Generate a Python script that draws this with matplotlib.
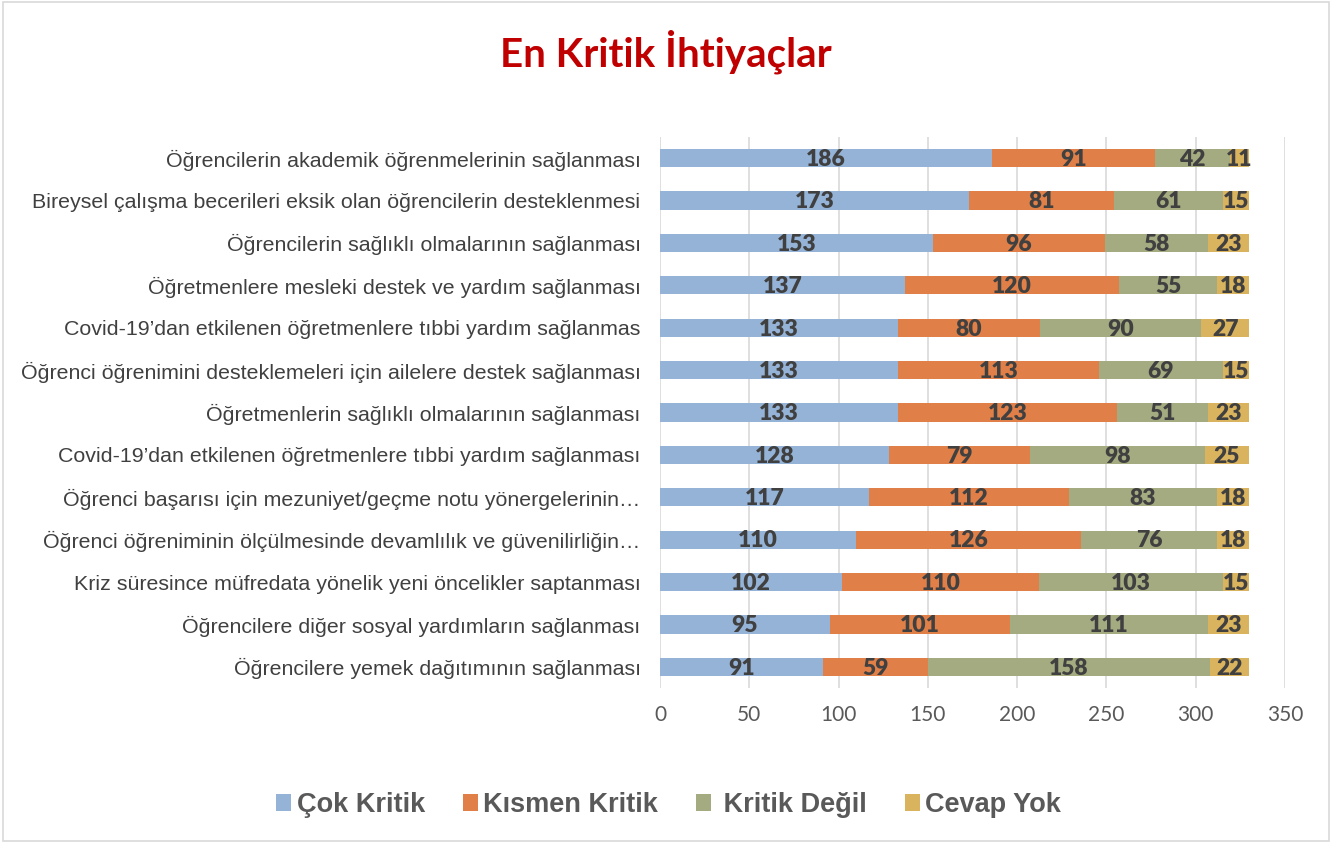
import matplotlib
matplotlib.use("Agg")
import matplotlib.pyplot as plt
from matplotlib.patches import Rectangle
import numpy as np

categories = [
    "Öğrencilerin akademik öğrenmelerinin sağlanması",
    "Bireysel çalışma becerileri eksik olan öğrencilerin desteklenmesi",
    "Öğrencilerin sağlıklı olmalarının sağlanması",
    "Öğretmenlere mesleki destek ve yardım sağlanması",
    "Covid-19’dan etkilenen öğretmenlere tıbbi yardım sağlanmas",
    "Öğrenci öğrenimini desteklemeleri için ailelere destek sağlanması",
    "Öğretmenlerin sağlıklı olmalarının sağlanması",
    "Covid-19’dan etkilenen öğretmenlere tıbbi yardım sağlanması",
    "Öğrenci başarısı için mezuniyet/geçme notu yönergelerinin…",
    "Öğrenci öğreniminin ölçülmesinde devamlılık ve güvenilirliğin…",
    "Kriz süresince müfredata yönelik yeni öncelikler saptanması",
    "Öğrencilere diğer sosyal yardımların sağlanması",
    "Öğrencilere yemek dağıtımının sağlanması",
]
cok_kritik = [186, 173, 153, 137, 133, 133, 133, 128, 117, 110, 102, 95, 91]
kismen_kritik = [91, 81, 96, 120, 80, 113, 123, 79, 112, 126, 110, 101, 59]
kritik_degil = [42, 61, 58, 55, 90, 69, 51, 98, 83, 76, 103, 111, 158]
cevap_yok = [11, 15, 23, 18, 27, 15, 23, 25, 18, 18, 15, 23, 22]
series_names = ["Çok Kritik", "Kısmen Kritik", " Kritik Değil", "Cevap Yok"]
xticks = [0, 50, 100, 150, 200, 250, 300, 350]

colors = ["#95B3D7", "#E07F47", "#A5AB81", "#D9B35E"]

fig = plt.figure(figsize=(13.32, 8.43), dpi=100)
ax = fig.add_axes([660/1332, 1-688/843, (1285-660)/1332, (688-137)/843])

y = np.arange(len(categories))
left = np.zeros(len(categories))
all_series = [cok_kritik, kismen_kritik, kritik_degil, cevap_yok]
for vals, name, c in zip(all_series, series_names, colors):
    vals = np.array(vals, dtype=float)
    ax.barh(y, vals, left=left, height=0.43, color=c, label=name, zorder=3)
    for yi, l, v in zip(y, left, vals):
        ax.text(l + v/2, yi + 0.03, f"{int(v)}", ha="center", va="center",
                fontsize=16.5, fontweight="heavy", color="#404040",
                family=["Lato", "DejaVu Sans"], zorder=4)
    left += vals

ax.set_ylim(len(categories)-0.5, -0.5)
ax.set_xlim(0, 350)
ax.set_xticks(xticks)
ax.set_xticklabels([str(t) for t in xticks], fontsize=15, color="#595959",
                   family=["Lato", "DejaVu Sans"])
ax.set_yticks(y)
ax.set_yticklabels(categories, fontsize=15.4, color="#404040",
                   family=["Liberation Sans", "DejaVu Sans"])
ax.tick_params(axis="y", length=0, pad=14)
ax.tick_params(axis="x", length=0, pad=12)
ax.grid(axis="x", color="#D9D9D9", linewidth=1.2, zorder=0)
for s in ax.spines.values():
    s.set_visible(False)

fig.text(0.5, 1-52/843, "En Kritik İhtiyaçlar", ha="center", va="center",
         fontsize=29, fontweight="bold", color="#C00000",
         family=["Lato", "DejaVu Sans"])

handles, labels = ax.get_legend_handles_labels()
leg = fig.legend(handles, labels, loc="center", bbox_to_anchor=(0.502, 1-805/843),
                 ncol=4, frameon=False, handlelength=0.55, handleheight=0.55,
                 handletextpad=0.2, columnspacing=1.4,
                 prop={"family": "Liberation Sans", "weight": "bold", "size": 19.5})
for t in leg.get_texts():
    t.set_color("#595959")

fig.patches.append(Rectangle((0.002, 0.002), 0.996, 0.996, transform=fig.transFigure,
                             fill=False, edgecolor="#D9D9D9", linewidth=1.2))

fig.savefig("out.png", dpi=100, facecolor="white")
